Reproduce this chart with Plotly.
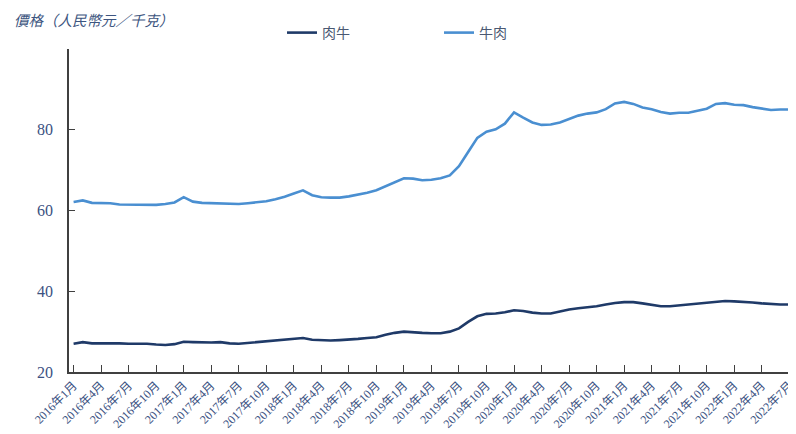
import plotly.graph_objects as go

years = [2016, 2017, 2018, 2019, 2020, 2021, 2022]
months = []
for y in years:
    for m in range(1, 13):
        if y == 2022 and m > 7:
            break
        months.append(f"{y}年{m}月")

tick_labels = [
    "2016年1月", "2016年4月", "2016年7月", "2016年10月",
    "2017年1月", "2017年4月", "2017年7月", "2017年10月",
    "2018年1月", "2018年4月", "2018年7月", "2018年10月",
    "2019年1月", "2019年4月", "2019年7月", "2019年10月",
    "2020年1月", "2020年4月", "2020年7月", "2020年10月",
    "2021年1月", "2021年4月", "2021年7月", "2021年10月",
    "2022年1月", "2022年4月", "2022年7月",
]

cattle = [
    27.0, 27.4, 27.1, 27.1, 27.2, 27.1, 27.0, 27.0, 27.0, 26.8, 26.7, 26.9,
    27.5, 27.4, 27.3, 27.3, 27.4, 27.1, 27.0, 27.2, 27.3, 27.5, 27.7, 27.9,
    28.2, 28.4, 28.0, 27.9, 27.8, 27.9, 28.0, 28.2, 28.4, 28.6, 29.2, 29.7,
    30.0, 29.8, 29.7, 29.6, 29.6, 30.0, 30.8, 32.4, 33.8, 34.4, 34.5, 34.8,
    35.3, 35.1, 34.7, 34.5, 34.5, 35.0, 35.5, 35.8, 36.0, 36.3, 36.7, 37.1,
    37.3, 37.3, 37.0, 36.7, 36.3, 36.3, 36.5, 36.8, 37.0, 37.1, 37.3, 37.6,
    37.5, 37.4, 37.2, 37.0, 36.8, 36.7, 36.7,
]

beef = [
    62.1, 62.5, 61.9, 61.8, 61.8, 61.5, 61.5, 61.5, 61.4, 61.4, 61.6, 62.0,
    63.3, 62.2, 61.9, 61.8, 61.8, 61.7, 61.6, 61.8, 62.0, 62.3, 62.8, 63.4,
    64.2, 65.0, 63.8, 63.3, 63.2, 63.2, 63.5, 63.9, 64.4, 65.0, 66.0, 67.0,
    68.0, 67.9, 67.5, 67.6, 68.0, 68.7, 71.0, 74.5, 78.0, 79.5, 80.1, 81.5,
    84.3, 83.0, 81.8, 81.2, 81.3, 81.8, 82.7, 83.5, 84.0, 84.3, 85.1, 86.5,
    86.9, 86.4, 85.5, 85.1, 84.4, 84.0, 84.2, 84.2, 84.7, 85.2, 86.4, 86.6,
    86.2, 86.1, 85.6, 85.3, 84.9, 85.0, 85.0,
]

y_ticks = [20, 40, 60, 80]

label_color = "#3b5282"
axis_color = "#404040"

# The page body has an 8px default margin, so the figure is drawn 8px smaller
# and every position is shifted 8px up/left to land where the reference has it.
fig = go.Figure()
fig.add_trace(go.Scatter(x=months, y=cattle, mode="lines", name="肉牛",
                         line=dict(color="#1f3a68", width=2.6)))
fig.add_trace(go.Scatter(x=months, y=beef, mode="lines", name="牛肉",
                         line=dict(color="#4a8fd1", width=2.6)))

fig.update_layout(
    width=788, height=426,
    margin=dict(l=61, r=0, t=41, b=62),
    paper_bgcolor="white", plot_bgcolor="white",
    showlegend=True,
    legend=dict(orientation="h", xref="paper", yref="container",
                x=0.293, y=1 - 25 / 426, xanchor="left", yanchor="middle",
                entrywidth=112, entrywidthmode="pixels",
                font=dict(family="Noto Sans CJK TC", size=14, color="#4a5872"),
                bgcolor="rgba(0,0,0,0)"),
    xaxis=dict(type="category", range=[-0.5, 78.73], automargin=False,
               tickmode="array", tickvals=tick_labels, ticktext=tick_labels,
               tickangle=-45, ticks="inside", ticklen=7, tickwidth=1.3,
               tickcolor=axis_color, showline=True, linecolor=axis_color,
               linewidth=1.5, showgrid=False, zeroline=False,
               tickfont=dict(family="Liberation Serif, Noto Sans CJK TC", size=12,
                             color=label_color)),
    yaxis=dict(range=[20, 100], tickmode="array", tickvals=y_ticks,
               automargin=False,
               ticks="inside", ticklen=6, tickwidth=1.3, tickcolor=axis_color,
               showline=True, linecolor=axis_color, linewidth=1.5,
               showgrid=False, zeroline=False, ticklabelstandoff=11,
               tickfont=dict(family="Liberation Serif", size=16, color=label_color)),
    annotations=[dict(text="<i>價格（人民幣元／千克）</i>", xref="paper", yref="paper",
                      x=-57 / 727, y=1 + 30 / 323, xanchor="left", yanchor="middle",
                      showarrow=False,
                      font=dict(family="Noto Sans CJK TC", size=14.5, color="#3d5580"))],
)

fig.write_html("out.html")
